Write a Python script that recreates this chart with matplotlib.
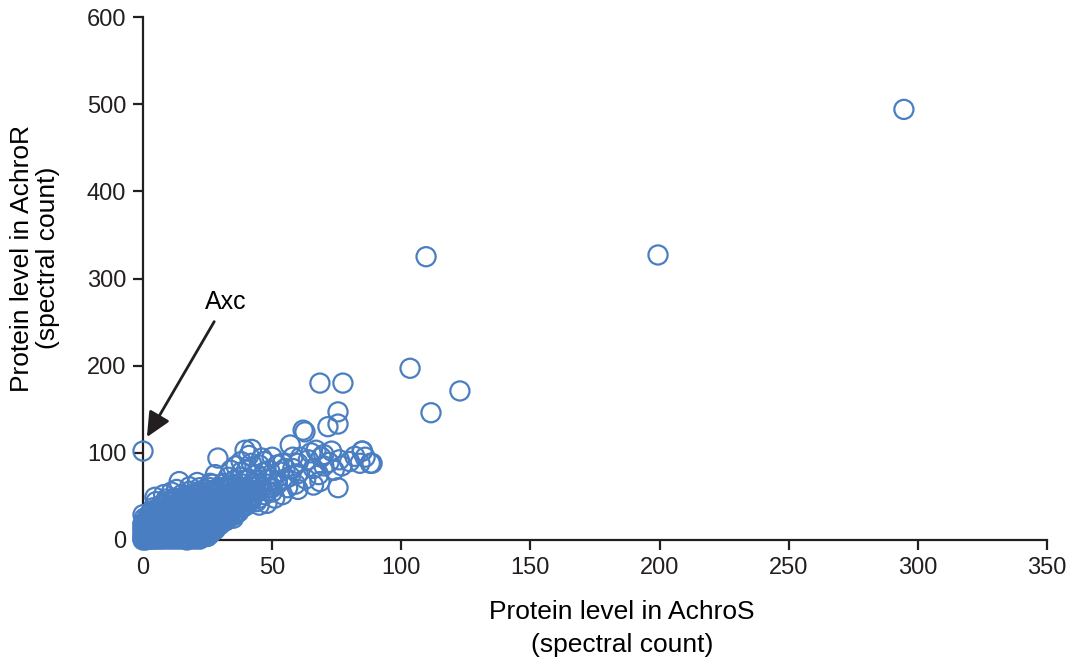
import numpy as np
import matplotlib.pyplot as plt

plt.rcParams['font.family'] = ['Liberation Sans', 'DejaVu Sans']

# sparse part of the cluster (AchroS, AchroR spectral counts)
cluster = [
    (0,0),(1,0),(2,1),(0,2),(1,3),(3,2),(2,5),(4,4),(0,5),(1,7),(3,8),(5,6),(6,3),(4,1),(7,2),(8,5),
    (6,9),(2,10),(0,12),(4,12),(7,11),(9,8),(10,4),(11,9),(12,13),(9,14),(5,15),(2,16),(0,18),(3,20),
    (0,29),(5,30),(4,37),(5,44),(8,40),(11,38),(22,8),(25,13),(17,0),(21,2),(24,5),
    (4.6,49),(8,52),(11,55),(14,67),(13,58),(16,50),(18,61),(20,44),(22,55),(24,48),(19,40),(23,37),
    (25,42),(27,52),(26,33),(28,28),(29,24),(30,34),(29,94),(28,58),(31,45),(30,60),
    (33,52),(32,40),(34,30),(35,44),(36,62),(38,55),(37,48),(39,38),(40,60),(41,70),(38,72),(35,68),
    (42,50),(43,65),(40,80),(38,90),(39.5,103),(41,97),(44,75),(45,86),(46,94),(47,90),(46,60),(48,70),
    (49,80),(50,55),(48,42),(45,40),(52,66),(53,78),(54,88),(55,70),(57,109),(56,60),(58,95),(60,88),
    (61,95),(62,126),(60,76),(58,82),(64,92),(65,100),(66,63),(67,103),(69,95),(70,98),(72,89),(73,102),
    (74,80),(76,92),(77,85),(80,90),(82,96),(85,102),(86,95),(88,88),(84,88),(42,45),(44,55),(36,40),
    (33,35),(32,24),(30,18),(28,12),(26,8),(31,28),(35,25),(37,32),(22,38),(18,45),(15,42),(12,46),
    (9,47),(16,36),(38,78),(36,85),(42,88),(50,95),(52,86),(55,82),(57,73),(59,64),(63,70),(66,82),
    (68,75),(70,85),(60,58),(54,52),(51,48),(49,60),(44,68),(33,72),(31,65),(26,65),(24,58),(21,66),
    (28,75),(34,80),(42,104),(47,78),
]

# dense core, one row of AchroS values per AchroR level
core_rows = {
    1:  [0,1.5,3,5,6.5,8,10,12,14,16,18,20,22],
    4:  [0.5,2,3.5,5.5,7,9,11,13,15,17,19,21,23,25],
    7:  [0,1,3,4.5,6,8,10,12,14,16,18,20,22,24,26],
    10: [0.5,2,4,6,7.5,9.5,11,13,15,17,19,21,23,25,27],
    13: [0,1.5,3,5,7,9,10.5,12.5,14,16,18,20,22,24,26,28],
    16: [0.5,2.5,4,6,8,10,12,13.5,15,17,19,21,23,25,27,29],
    19: [0,2,3.5,5.5,7.5,9,11,13,15,16.5,18,20,22,24,26,28,30],
    22: [1,3,5,7,9,11,12.5,14,16,18,20,22,24,26,28,30,32],
    25: [0.5,2.5,4.5,6.5,8.5,10,12,14,16,18,20,21.5,23,25,27,29,31,33],
    28: [2,4,6,8,10,12,14,15.5,17,19,21,23,25,27,29,31,33,35],
    31: [3,5,7,9,11,13,15,17,19,21,23,25,27,29,31,33,36],
    34: [4,6,8,10,12,14,16,18,20,22,24,26,28,30,32,34,37],
    37: [6,8,10,12,14,16,18,20,22,24,26,28,30,32,34,36,38],
    40: [7,10,13,15,17,19,21,23,25,27,29,31,33,35,37,40],
    44: [9,12,15,18,20,22,24,26,28,30,32,34,36,38,41,44],
    48: [12,16,19,22,25,27,29,31,33,35,37,39,42,45],
    52: [15,19,22,25,28,31,33,35,37,40,43,47],
    56: [18,22,26,29,32,35,38,41,44,48],
    60: [22,26,30,34,37,40,43,46,50],
    64: [27,31,35,39,42,45,48,52],
}

# outliers
outliers = [
    (0,102),(294.6,494),(109.6,325),(199.4,327),(103.4,197),(122.7,171),(111.5,146),
    (68.5,180),(77.4,180),(75.5,147),(71.6,130),(75.5,133),(62.7,124),(84.8,102),(88.7,88),
    (68.5,67),(75.5,60),
]

core = [(x, y) for y, xs in core_rows.items() for x in xs]
pts = np.array(core + cluster + outliers)
achro_s = pts[:, 0]
achro_r = pts[:, 1]

fig = plt.figure(figsize=(10.73, 6.67), dpi=100)
ax = fig.add_axes([143/1073, 1-540/667, (1047-143)/1073, (540-17)/667])
ax.scatter(achro_s, achro_r, s=190, facecolors='none', edgecolors='#4a7ec2',
           linewidths=1.6, clip_on=False, zorder=3)

ax.set_xlim(0, 350)
ax.set_ylim(0, 600)
ax.set_xticks(range(0, 351, 50))
ax.set_yticks(range(0, 601, 100))
for s in ['top', 'right']:
    ax.spines[s].set_visible(False)
for s in ['left', 'bottom']:
    ax.spines[s].set_linewidth(1.6)
    ax.spines[s].set_color('#231f20')
ax.tick_params(direction='out', length=7, width=1.6, colors='#231f20', labelsize=17, pad=5)

fig.text(622/1073, 1-612/667, 'Protein level in AchroS', ha='center', va='center', fontsize=19)
fig.text(622/1073, 1-645/667, '(spectral count)', ha='center', va='center', fontsize=19)
fig.text(22/1073, 1-258/667, 'Protein level in AchroR', ha='center', va='center', fontsize=19, rotation=90)
fig.text(48/1073, 1-258/667, '(spectral count)', ha='center', va='center', fontsize=19, rotation=90)

ax.annotate('Axc', xy=(1.5, 118), xytext=(32, 273), fontsize=18, ha='center', va='center',
            arrowprops=dict(arrowstyle='-|>,head_length=0.75,head_width=0.35', color='#231f20',
                            lw=2, mutation_scale=20, shrinkA=4, shrinkB=0))

fig.savefig('out.png', dpi=100)
